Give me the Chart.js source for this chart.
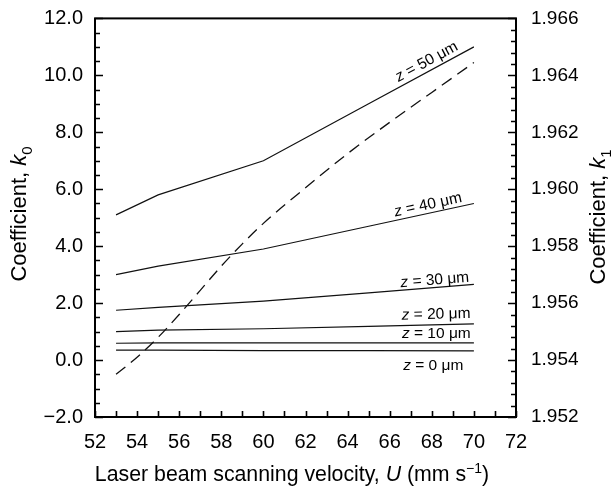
<!DOCTYPE html>
<html>
<head>
<meta charset="utf-8">
<script src="https://cdn.jsdelivr.net/npm/chart.js@4.4.1/dist/chart.umd.min.js"></script>
<style>
    html, body { margin: 0; padding: 0; background: #fff; }
    #wrap { width: 613px; height: 490px; }
</style>
</head>
<body>
<div id="wrap"><canvas id="coefChart"></canvas></div>
<script>
// Laser beam scanning velocity U (mm/s) for the k0 curves
const velocity = [53, 55, 60, 65, 70];

// Coefficient k0 for each depth z (left axis)
const k0_z50 = [5.1, 5.8, 7.0, 9.0, 11.0];
const k0_z40 = [3.0, 3.3, 3.9, 4.7, 5.5];
const k0_z30 = [1.75, 1.85, 2.07, 2.36, 2.66];
const k0_z20 = [1.0, 1.05, 1.1, 1.18, 1.27];
const k0_z10 = [0.59, 0.6, 0.6, 0.6, 0.6];
const k0_z0 = [0.35, 0.35, 0.33, 0.33, 0.32];

// Coefficient k1 (right axis, dashed)
const k1Velocity = [53, 54, 55, 56, 57, 58, 59, 60, 62, 64, 66, 68, 70];
const k1Values = [1.9535, 1.9541, 1.9548, 1.9556, 1.95645, 1.9573, 1.95808, 1.9588,
                  1.96005, 1.96125, 1.96235, 1.9634, 1.96445];

// tick labels
const xTicks = [52, 54, 56, 58, 60, 62, 64, 66, 68, 70, 72];
const k0Ticks = [-2, 0, 2, 4, 6, 8, 10, 12];
const k1Ticks = [1.952, 1.954, 1.956, 1.958, 1.960, 1.962, 1.964, 1.966];

const depthLabels = ['50', '40', '30', '20', '10', '0'];

const FONT = "'Liberation Sans', Arial, Helvetica, sans-serif";

function toPoints(xs, ys) {
    return xs.map((x, i) => ({ x: x, y: ys[i] }));
}

function partFont(p, size) {
    const s = (p.sub || p.sup) ? Math.round(size * 0.68) : size;
    return (p.italic ? 'italic ' : '') + s + 'px ' + FONT;
}

function drawRich(ctx, parts, size, x, y, align) {
    let w = 0;
    parts.forEach(p => { ctx.font = partFont(p, size); w += ctx.measureText(p.t).width; });
    let cx = align === 'center' ? x - w / 2 : (align === 'right' ? x - w : x);
    ctx.textAlign = 'left';
    ctx.textBaseline = 'alphabetic';
    parts.forEach(p => {
        ctx.font = partFont(p, size);
        const dy = p.sub ? size * 0.28 : (p.sup ? -size * 0.38 : 0);
        ctx.fillText(p.t, cx, y + dy);
        cx += ctx.measureText(p.t).width;
    });
}

// frame, inward ticks, axis titles and curve labels
const decorPlugin = {
    id: 'decor',
    afterDatasetsDraw(chart) {
        const ctx = chart.ctx;
        const a = chart.chartArea;
        const xs = chart.scales.x, yl = chart.scales.y, yr = chart.scales.y1;
        ctx.save();
        ctx.strokeStyle = '#000';
        ctx.fillStyle = '#000';

        // ticks
        ctx.lineWidth = 1.6;
        ctx.beginPath();
        for (let i = 0; i <= 28; i++) {
            const y = Math.round(yl.getPixelForValue(-2 + i * 0.5)) + 0.5;
            const len = i % 4 === 0 ? 8 : 5;
            ctx.moveTo(a.left, y); ctx.lineTo(a.left + len, y);
        }
        for (let i = 0; i <= 35; i++) {
            const y = Math.round(yr.getPixelForValue(1.952 + i * 0.0004)) + 0.5;
            const len = i % 5 === 0 ? 8 : 5;
            ctx.moveTo(a.right, y); ctx.lineTo(a.right - len, y);
        }
        for (let u = 52; u <= 72; u++) {
            const x = Math.round(xs.getPixelForValue(u)) + 0.5;
            ctx.moveTo(x, a.bottom); ctx.lineTo(x, a.bottom - 6);
        }
        ctx.stroke();

        // frame
        ctx.lineWidth = 2;
        ctx.strokeRect(a.left, a.top, a.right - a.left, a.bottom - a.top);

        // axis titles
        drawRich(ctx, [
            { t: 'Laser beam scanning velocity, ' },
            { t: 'U', italic: true },
            { t: ' (mm s' },
            { t: '\u22121', sup: true },
            { t: ')' }
        ], 21.3, 292, 481, 'center');

        ctx.save();
        ctx.translate(26, 214);
        ctx.rotate(-Math.PI / 2);
        drawRich(ctx, [{ t: 'Coefficient, ' }, { t: 'k', italic: true }, { t: '0', sub: true }], 22, 0, 0, 'center');
        ctx.restore();

        ctx.save();
        ctx.translate(605, 217);
        ctx.rotate(-Math.PI / 2);
        drawRich(ctx, [{ t: 'Coefficient, ' }, { t: 'k', italic: true }, { t: '1', sub: true }], 22, 0, 0, 'center');
        ctx.restore();

        // curve labels, placed along each line near its right end
        const series = [k0_z50, k0_z40, k0_z30, k0_z20, k0_z10, k0_z0];
        const endU = [69.4, 69.5, 69.8, 69.85, 69.85, 69.5];
        const offset = [5, 4, 3, 6, 5, -19];
        series.forEach((vals, i) => {
            const n = velocity.length;
            const u0 = velocity[n - 2], u1 = velocity[n - 1];
            const v0 = vals[n - 2], v1 = vals[n - 1];
            const x0 = xs.getPixelForValue(u0), y0 = yl.getPixelForValue(v0);
            const x1 = xs.getPixelForValue(u1), y1 = yl.getPixelForValue(v1);
            const ang = Math.atan2(y1 - y0, x1 - x0);
            const vEnd = v0 + (v1 - v0) * (endU[i] - u0) / (u1 - u0);
            ctx.save();
            ctx.translate(xs.getPixelForValue(endU[i]), yl.getPixelForValue(vEnd));
            ctx.rotate(i === 5 ? 0 : ang);
            drawRich(ctx, [
                { t: 'z', italic: true },
                { t: ' = ' + depthLabels[i] + ' \u03bcm' }
            ], 15.5, 0, -offset[i], 'right');
            ctx.restore();
        });
        ctx.restore();
    }
};

const lineStyle = { borderColor: '#111', borderWidth: 1.2, pointRadius: 0, fill: false, tension: 0, yAxisID: 'y' };

const ctx = document.getElementById('coefChart').getContext('2d');
const coefChart = new Chart(ctx, {
    type: 'line',
    data: {
        datasets: [
            Object.assign({ label: 'z = 50', data: toPoints(velocity, k0_z50) }, lineStyle),
            Object.assign({ label: 'z = 40', data: toPoints(velocity, k0_z40) }, lineStyle),
            Object.assign({ label: 'z = 30', data: toPoints(velocity, k0_z30) }, lineStyle),
            Object.assign({ label: 'z = 20', data: toPoints(velocity, k0_z20) }, lineStyle),
            Object.assign({ label: 'z = 10', data: toPoints(velocity, k0_z10) }, lineStyle),
            Object.assign({ label: 'z = 0', data: toPoints(velocity, k0_z0) }, lineStyle),
            {
                label: 'k1',
                data: toPoints(k1Velocity, k1Values),
                yAxisID: 'y1',
                borderColor: '#111',
                borderWidth: 1.3,
                borderDash: [12, 7],
                pointRadius: 0,
                fill: false,
                cubicInterpolationMode: 'monotone'
            }
        ]
    },
    options: {
        responsive: true,
        maintainAspectRatio: false,
        animation: false,
        layout: { padding: { top: 15, left: 0, right: 0, bottom: 0 } },
        plugins: {
            legend: { display: false },
            tooltip: { enabled: false }
        },
        scales: {
            x: {
                type: 'linear',
                min: 52,
                max: 72,
                grid: { display: false },
                border: { display: false },
                afterBuildTicks: s => { s.ticks = xTicks.map(v => ({ value: v })); },
                afterFit: s => { s.height = 73; },
                ticks: { color: '#000', font: { family: FONT, size: 20 }, padding: 5, maxRotation: 0 }
            },
            y: {
                position: 'left',
                min: -2,
                max: 12,
                grid: { display: false },
                border: { display: false },
                afterBuildTicks: s => { s.ticks = k0Ticks.map(v => ({ value: v })); },
                afterFit: s => { s.width = 95; },
                ticks: {
                    color: '#000',
                    font: { family: FONT, size: 20 },
                    padding: 4,
                    callback: v => (v < 0 ? '\u2212' + Math.abs(v).toFixed(1) : v.toFixed(1))
                }
            },
            y1: {
                position: 'right',
                min: 1.952,
                max: 1.966,
                grid: { display: false },
                border: { display: false },
                afterBuildTicks: s => { s.ticks = k1Ticks.map(v => ({ value: v })); },
                afterFit: s => { s.width = 97; },
                ticks: {
                    color: '#000',
                    font: { family: FONT, size: 19 },
                    padding: 7,
                    callback: v => v.toFixed(3)
                }
            }
        }
    },
    plugins: [decorPlugin]
});
</script>
</body>
</html>
